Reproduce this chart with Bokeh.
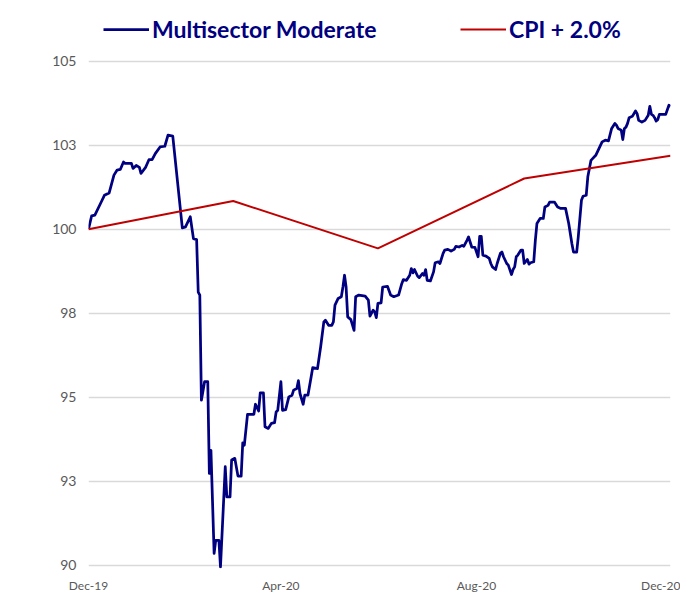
import pandas as pd
from bokeh.plotting import figure
from bokeh.models import Range1d, FixedTicker, DatetimeTickFormatter, Legend, LegendItem
from bokeh.embed import file_html
from bokeh.resources import INLINE

START = "2019-12-31"
series_names = ["Multisector Moderate", "CPI + 2.0%"]

# Multisector Moderate: days after 2019-12-31 and index level
ms_days = [
    0, 2, 4, 8, 10, 13, 16, 18, 20, 22,
    23, 27, 28, 30, 32, 33, 36, 38, 40, 42,
    45, 48, 50, 53, 59, 61, 64, 66, 68, 69,
    70, 71, 73, 75, 76, 77, 79, 80, 82, 83,
    86, 87, 89, 90, 92, 94, 96, 97, 98, 100,
    104, 105, 107, 108, 110, 111, 113, 115, 117, 118,
    119, 121, 122, 124, 126, 128, 129, 131, 132, 133,
    135, 136, 138, 140, 141, 144, 146, 148, 149, 151,
    153, 154, 155, 157, 159, 160, 161, 162, 163, 165,
    167, 168, 170, 174, 176, 177, 179, 180, 181, 182,
    184, 185, 188, 190, 192, 195, 197, 198, 200, 202,
    203, 204, 205, 207, 208, 210, 211, 212, 213, 215,
    217, 218, 220, 221, 223, 224, 226, 228, 230, 231,
    233, 235, 236, 238, 239, 240, 241, 243, 245, 246,
    247, 248, 250, 252, 253, 254, 256, 257, 259, 260,
    261, 263, 264, 266, 267, 268, 269, 270, 272, 273,
    274, 276, 277, 278, 280, 281, 282, 284, 286, 287,
    289, 290, 293, 295, 297, 300, 302, 304, 305, 307,
    308, 310, 311, 313, 314, 316, 317, 319, 321, 323,
    325, 327, 329, 331, 332, 333, 335, 336, 337, 338,
    339, 340, 342, 344, 345, 346, 348, 350, 352, 353,
    354, 355, 356, 357, 358, 359, 361, 363, 365, 366,
]
ms_values = [
    100.00, 100.40, 100.42, 100.81, 101.01, 101.08, 101.61, 101.76, 101.78, 102.00,
    101.96, 101.96, 101.81, 101.90, 101.84, 101.66, 101.85, 102.07, 102.07, 102.25,
    102.45, 102.47, 102.80, 102.77, 100.04, 100.07, 100.37, 99.72, 99.69, 98.13,
    98.04, 94.91, 95.46, 95.46, 92.73, 93.42, 90.35, 90.74, 90.74, 89.95,
    92.93, 92.03, 92.03, 93.13, 93.18, 92.65, 92.65, 93.64, 93.57, 94.49,
    94.49, 94.79, 94.59, 95.13, 95.13, 94.12, 94.07, 94.22, 94.24, 94.56,
    94.61, 95.46, 94.61, 94.63, 95.01, 95.06, 95.21, 95.26, 95.49, 95.11,
    94.79, 95.06, 95.06, 95.60, 95.88, 95.85, 96.50, 97.24, 97.29, 97.14,
    97.14, 97.24, 97.74, 97.94, 97.99, 98.28, 98.63, 98.28, 97.39, 97.31,
    96.99, 97.99, 98.04, 98.01, 97.89, 97.41, 97.59, 97.54, 97.37, 97.79,
    97.81, 98.28, 98.30, 98.04, 97.99, 98.04, 98.38, 98.50, 98.48, 98.63,
    98.83, 98.70, 98.80, 98.60, 98.56, 98.68, 98.63, 98.80, 98.48, 98.46,
    98.73, 99.00, 99.03, 98.98, 99.28, 99.38, 99.40, 99.35, 99.40, 99.49,
    99.47, 99.52, 99.49, 99.67, 99.77, 99.62, 99.47, 99.46, 99.18, 99.79,
    99.79, 99.23, 99.20, 99.13, 98.98, 98.88, 98.80, 98.98, 99.28, 99.32,
    99.18, 98.98, 98.93, 98.65, 98.80, 98.88, 99.18, 99.23, 99.38, 99.38,
    98.98, 99.10, 98.96, 99.00, 99.03, 99.67, 100.17, 100.32, 100.32, 100.66,
    100.71, 100.81, 100.81, 100.66, 100.62, 100.62, 100.17, 99.57, 99.32, 99.32,
    99.77, 100.86, 100.98, 101.01, 101.56, 102.05, 102.10, 102.20, 102.40, 102.60,
    102.65, 102.63, 103.00, 103.15, 103.10, 103.00, 102.95, 102.67, 103.00, 103.04,
    103.15, 103.32, 103.36, 103.52, 103.44, 103.24, 103.19, 103.24, 103.39, 103.66,
    103.42, 103.39, 103.32, 103.22, 103.26, 103.42, 103.42, 103.42, 103.69, 103.66,
]

# CPI + 2.0% (quarter ends)
cpi_dates = ["2019-12-31", "2020-03-31", "2020-06-30", "2020-09-30", "2020-12-31"]
cpi_values = [100.00, 100.84, 99.43, 101.51, 102.19]

y_ticks = [90, 92.5, 95, 97.5, 100, 102.5, 105]
y_labels = ["90", "93", "95", "98", "100", "103", "105"]
x_tick_dates = ["2019-12-31", "2020-04-30", "2020-08-31", "2020-12-31"]

ms_dates = pd.Timestamp(START) + pd.to_timedelta(ms_days, unit="D")
cpi_dt = pd.to_datetime(cpi_dates)

p = figure(
    width=680, height=600,
    x_axis_type="datetime",
    x_range=Range1d(pd.Timestamp("2019-12-31"), pd.Timestamp("2020-12-31")),
    y_range=Range1d(89.9, 106.66),
    output_backend="svg", toolbar_location=None,
    min_border_left=88, min_border_right=10, min_border_top=5, min_border_bottom=32,
)
p.outline_line_color = None
p.background_fill_color = "white"
p.border_fill_color = "white"

r_ms = p.line(ms_dates, ms_values, line_color="#000080", line_width=2.75, line_join="round")
r_cpi = p.line(cpi_dt, cpi_values, line_color="#c00000", line_width=2)

# grid
p.xgrid.visible = False
p.ygrid.grid_line_color = "#d9d9d9"
p.ygrid.grid_line_width = 1.5

# y axis
p.yaxis.ticker = FixedTicker(ticks=y_ticks)
p.yaxis.major_label_overrides = {t: l for t, l in zip(y_ticks, y_labels)}
p.yaxis.axis_line_color = None
p.yaxis.major_tick_line_color = None
p.yaxis.minor_tick_line_color = None
p.yaxis.major_tick_out = 0
p.yaxis.major_tick_in = 0
p.yaxis.minor_tick_out = 0
p.yaxis.major_label_standoff = 12
p.yaxis.major_label_text_color = "#595959"
p.yaxis.major_label_text_font = "Lato"
p.yaxis.major_label_text_font_size = "14px"

# x axis
p.xaxis.ticker = FixedTicker(ticks=[pd.Timestamp(d).value / 1e6 for d in x_tick_dates])
fmt = "%b-%y"
p.xaxis.formatter = DatetimeTickFormatter(
    milliseconds=fmt, seconds=fmt, minsec=fmt, minutes=fmt, hourmin=fmt, hours=fmt,
    days=fmt, months=fmt, years=fmt,
)
p.xaxis.axis_line_color = None
p.xaxis.major_tick_line_color = None
p.xaxis.minor_tick_line_color = None
p.xaxis.major_tick_out = 0
p.xaxis.major_tick_in = 0
p.xaxis.minor_tick_out = 0
p.xaxis.major_label_standoff = 9
p.xaxis.major_label_text_color = "#595959"
p.xaxis.major_label_text_font = "Lato"
p.xaxis.major_label_text_font_size = "12px"


def make_legend(label, renderer, loc):
    lg = Legend(
        items=[LegendItem(label=label, renderers=[renderer])],
        location=loc,
        orientation="horizontal",
        border_line_color=None,
        background_fill_alpha=0,
        padding=0, margin=0,
        glyph_width=46, glyph_height=20,
        label_standoff=3,
        label_text_font="Lato",
        label_text_font_style="bold",
        label_text_font_size="23px",
        label_text_color="#000080",
    )
    p.add_layout(lg)
    return lg


make_legend(series_names[0], r_ms, (15, 525))
make_legend(series_names[1], r_cpi, (372, 525))

open("out.html", "w").write(file_html(p, INLINE))
